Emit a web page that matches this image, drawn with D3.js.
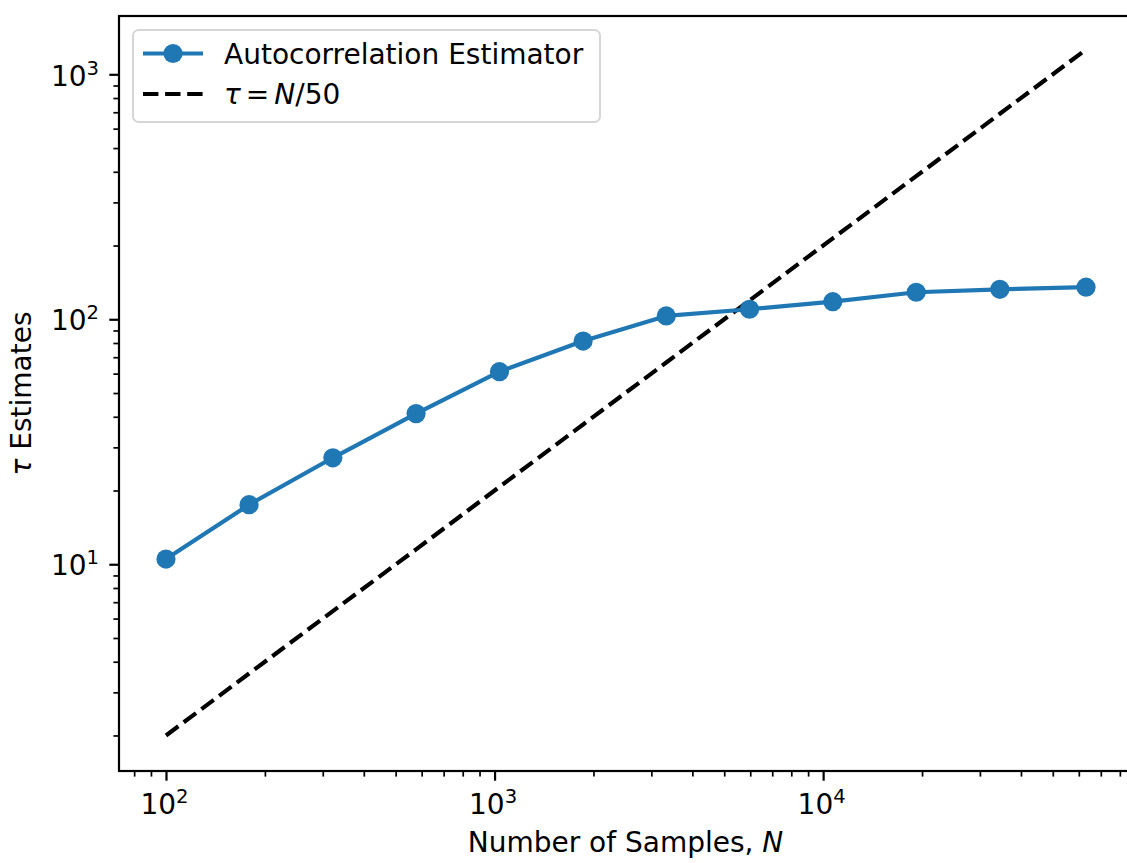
<!DOCTYPE html>
<html>
<head>
<meta charset="utf-8">
<script src="https://cdn.jsdelivr.net/npm/d3@7"></script>
<style>
	body { margin: 0; background: #fff; }
	text { font-family: "DejaVu Sans", sans-serif; fill: #000; }
</style>
</head>
<body>
<svg id="svg"></svg>
<script>
// values
var samples = [100, 179, 322, 577, 1035, 1860, 3330, 5970, 10700, 19200, 34500, 63100];
var tauEstimates = [10.5, 17.5, 27.2, 41.2, 61.1, 81.5, 103.2, 109.9, 118.0, 128.9, 132.5, 135.2];
var tauReference = [2.0, 3.58, 6.44, 11.5, 20.7, 37.2, 66.6, 119.4, 214, 384, 690, 1262];
var xMajorTicks = [1e2, 1e3, 1e4];
var xTickExponents = ["2", "3", "4"];
var yMajorTicks = [1e1, 1e2, 1e3];
var yTickExponents = ["1", "2", "3"];
var seriesLabel = "Autocorrelation Estimator";

var width = 1127, height = 863;
var plotLeft = 119, plotRight = 1132, plotTop = 16, plotBottom = 771;
var blue = "#1f77b4";

var svg = d3.select("#svg")
	.attr("width", width)
	.attr("height", height);

var x = d3.scaleLog()
	.domain([Math.pow(10, 1.857), Math.pow(10, 4.94)])
	.range([plotLeft, plotRight]);
var y = d3.scaleLog()
	.domain([Math.pow(10, 0.156), Math.pow(10, 3.238)])
	.range([plotBottom, plotTop]);

function minorTicks(scale)
{
	var d = scale.domain(), out = [];
	for (var e = Math.floor(Math.log10(d[0])); e <= Math.ceil(Math.log10(d[1])); e++)
		for (var m = 2; m <= 9; m++)
		{
			var v = m * Math.pow(10, e);
			if (v >= d[0] && v <= d[1]) out.push(v);
		}
	return out;
}

// minor ticks
svg.append("g")
	.attr("transform", "translate(0," + plotBottom + ")")
	.call(d3.axisBottom(x).tickValues(minorTicks(x)).tickSize(5.6).tickSizeOuter(0).tickFormat(""))
	.call(function(g) { g.select(".domain").remove(); })
	.selectAll("line").attr("stroke-width", 1.7);
svg.append("g")
	.attr("transform", "translate(" + plotLeft + ",0)")
	.call(d3.axisLeft(y).tickValues(minorTicks(y)).tickSize(5.6).tickSizeOuter(0).tickFormat(""))
	.call(function(g) { g.select(".domain").remove(); })
	.selectAll("line").attr("stroke-width", 1.7);

// major ticks with 10^n labels
var xAxis = svg.append("g")
	.attr("transform", "translate(0," + plotBottom + ")")
	.call(d3.axisBottom(x).tickValues(xMajorTicks).tickSize(9.7).tickSizeOuter(0).tickFormat(function() { return "10"; }));
xAxis.select(".domain").remove();
xAxis.selectAll("line").attr("stroke-width", 2.2);
xAxis.selectAll("text")
	.attr("y", 43)
	.attr("dy", null)
	.attr("x", -2)
	.style("font-size", "28px")
	.style("font-family", "DejaVu Sans")
	.append("tspan")
	.attr("dy", -11)
	.style("font-size", "19.6px")
	.text(function(d, i) { return xTickExponents[i]; });

var yAxis = svg.append("g")
	.attr("transform", "translate(" + plotLeft + ",0)")
	.call(d3.axisLeft(y).tickValues(yMajorTicks).tickSize(9.7).tickSizeOuter(0).tickFormat(function() { return "10"; }));
yAxis.select(".domain").remove();
yAxis.selectAll("line").attr("stroke-width", 2.2);
yAxis.selectAll("text")
	.attr("x", -20)
	.attr("y", 10.7)
	.attr("dy", null)
	.style("font-size", "28px")
	.style("font-family", "DejaVu Sans")
	.append("tspan")
	.attr("dy", -11)
	.style("font-size", "19.6px")
	.text(function(d, i) { return yTickExponents[i]; });

// reference line tau = N/50
svg.append("path")
	.datum(samples)
	.attr("fill", "none")
	.attr("stroke", "#000")
	.attr("stroke-width", 4.17)
	.attr("stroke-dasharray", "15.4,6.7")
	.attr("d", d3.line()
		.x(function(d) { return x(d); })
		.y(function(d, i) { return y(tauReference[i]); }));

// estimator series
svg.append("path")
	.datum(samples)
	.attr("fill", "none")
	.attr("stroke", blue)
	.attr("stroke-width", 4.17)
	.attr("stroke-linejoin", "round")
	.attr("d", d3.line()
		.x(function(d) { return x(d); })
		.y(function(d, i) { return y(tauEstimates[i]); }));
svg.append("g")
	.selectAll("circle")
	.data(samples)
	.enter()
	.append("circle")
	.attr("cx", function(d) { return x(d); })
	.attr("cy", function(d, i) { return y(tauEstimates[i]); })
	.attr("r", 9.6)
	.attr("fill", blue);

// axes frame
svg.append("rect")
	.attr("x", plotLeft)
	.attr("y", plotTop)
	.attr("width", plotRight - plotLeft)
	.attr("height", plotBottom - plotTop)
	.attr("fill", "none")
	.attr("stroke", "#000")
	.attr("stroke-width", 2.2);

// axis labels
var xLabel = svg.append("text")
	.attr("x", (plotLeft + plotRight) / 2)
	.attr("y", 852)
	.style("text-anchor", "middle")
	.style("font-size", "28px");
xLabel.append("tspan").text("Number of Samples, ");
xLabel.append("tspan").style("font-style", "italic").text("N");

var yLabel = svg.append("text")
	.attr("transform", "translate(31," + (plotTop + plotBottom) / 2 + ") rotate(-90)")
	.style("text-anchor", "middle")
	.style("font-size", "28px");
yLabel.append("tspan").style("font-style", "italic").text("τ");
yLabel.append("tspan").text(" Estimates");

// legend
var legend = svg.append("g");
legend.append("rect")
	.attr("x", 133)
	.attr("y", 30)
	.attr("width", 467)
	.attr("height", 92)
	.attr("rx", 5.6)
	.attr("fill", "#fff")
	.attr("fill-opacity", 0.8)
	.attr("stroke", "#d6d6d6")
	.attr("stroke-width", 2);
legend.append("line")
	.attr("x1", 143).attr("x2", 203)
	.attr("y1", 53.5).attr("y2", 53.5)
	.attr("stroke", blue)
	.attr("stroke-width", 4.17);
legend.append("circle")
	.attr("cx", 173)
	.attr("cy", 53.5)
	.attr("r", 9.6)
	.attr("fill", blue);
legend.append("text")
	.attr("x", 224)
	.attr("y", 63.5)
	.style("font-size", "28px")
	.text(seriesLabel);
legend.append("line")
	.attr("x1", 143).attr("x2", 203)
	.attr("y1", 94).attr("y2", 94)
	.attr("stroke", "#000")
	.attr("stroke-width", 4.17)
	.attr("stroke-dasharray", "15.4,6.7");
var refLabel = legend.append("text")
	.attr("x", 224)
	.attr("y", 104)
	.style("font-size", "28px");
refLabel.append("tspan").style("font-style", "italic").text("τ");
refLabel.append("tspan").attr("dx", 5).text("=");
refLabel.append("tspan").attr("dx", 5).style("font-style", "italic").text("N");
refLabel.append("tspan").text("/50");
</script>
</body>
</html>
